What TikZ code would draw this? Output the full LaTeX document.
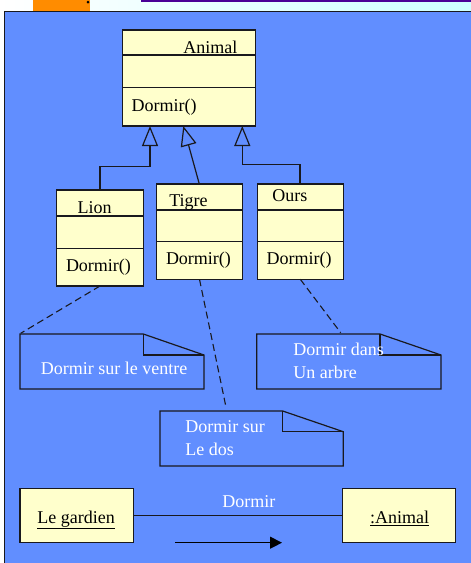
\documentclass[tikz,border=0pt]{standalone}
\usepackage{fontspec}
\setmainfont{Liberation Serif}
\usetikzlibrary{arrows.meta,calc}

\definecolor{panelblue}{RGB}{97,142,255}
\definecolor{classfill}{RGB}{255,255,204}
\definecolor{edgedark}{RGB}{25,25,30}
\definecolor{headcyan}{RGB}{205,255,255}
\definecolor{tabOrange}{RGB}{255,140,0}
\definecolor{rulePurple}{RGB}{75,0,150}

\tikzset{
  every node/.style={font=\fontsize{18}{21}\selectfont, inner sep=0pt, outer sep=0pt},
  classbox/.style={draw=edgedark, fill=classfill, line width=1.2pt, rectangle, anchor=north west},
  objbox/.style={draw=edgedark, fill=classfill, line width=1.2pt, rectangle, anchor=north west},
  notearea/.style={rectangle, anchor=north west},
  noteline/.style={draw=edgedark, line width=1.2pt, line join=miter},
  divider/.style={draw=edgedark, line width=1.2pt},
  generalize/.style={draw=edgedark, line width=1.2pt, -{Triangle[open, length=20pt, width=16pt]}},
  anchorline/.style={draw=edgedark, line width=1.1pt, dash pattern=on 7pt off 4pt},
  msgline/.style={draw=edgedark, line width=1.2pt},
  msgarrow/.style={draw=black, line width=1.2pt, -{Triangle[length=12pt, width=12pt]}},
  label/.style={anchor=base west, text=black},
  notetext/.style={anchor=base west, text=white},
}

\begin{document}
\begin{tikzpicture}[x=1pt, y=-1pt]
  \useasboundingbox (0,0) rectangle (471,563);

  % header strip
  \shade[left color=white, right color=headcyan] (0,0) rectangle (471,12);
  \fill[tabOrange] (33,0) rectangle (90,11);
  \fill[black] (88,2) circle[radius=1.5];
  \fill[rulePurple] (141,0) rectangle (471,1.5);

  % blue slide panel
  \fill[panelblue] (4.5,11.5) rectangle (475,567);
  \draw[edgedark, line width=1.2pt] (4.5,567) -- (4.5,11.5) -- (475,11.5);

  % classes
  \node[classbox, minimum width=133pt, minimum height=96pt] (animal) at (122.7,30) {};
  \node[classbox, minimum width=86.6pt, minimum height=96pt] (lion) at (56.7,190) {};
  \node[classbox, minimum width=85.6pt, minimum height=95.3pt] (tigre) at (156.7,184) {};
  \node[classbox, minimum width=86pt, minimum height=95.3pt] (ours) at (257.3,184) {};

  \draw[divider] ($(animal.north west)+(0,25)$) -- ($(animal.north east)+(0,25)$);
  \draw[divider] ($(animal.north west)+(0,57.7)$) -- ($(animal.north east)+(0,57.7)$);
  \draw[divider] ($(lion.north west)+(0,26)$) -- ($(lion.north east)+(0,26)$);
  \draw[divider] ($(lion.north west)+(0,58.3)$) -- ($(lion.north east)+(0,58.3)$);
  \draw[divider] ($(tigre.north west)+(0,26)$) -- ($(tigre.north east)+(0,26)$);
  \draw[divider] ($(tigre.north west)+(0,57.7)$) -- ($(tigre.north east)+(0,57.7)$);
  \draw[divider] ($(ours.north west)+(0,26)$) -- ($(ours.north east)+(0,26)$);
  \draw[divider] ($(ours.north west)+(0,57.7)$) -- ($(ours.north east)+(0,57.7)$);

  \node[label] (animalname) at (183.3,53) {Animal};
  \node[label] (animalop) at (131.7,111) {Dormir()};
  \node[label] (lionname) at (77.7,213) {Lion};
  \node[label] (lionop) at (66,271) {Dormir()};
  \node[label] (tigrename) at (169.3,206.5) {Tigre};
  \node[label] (tigreop) at (166,264.5) {Dormir()};
  \node[label] (oursname) at (272.3,201) {Ours};
  \node[label] (oursop) at (266.7,264.5) {Dormir()};

  % generalization arrows
  \coordinate (tipA) at ($(animal.south west)+(27.3,0)$);
  \coordinate (tipB) at ($(animal.south west)+(60.6,0)$);
  \coordinate (tipC) at ($(animal.south west)+(119.6,0)$);
  \draw[generalize] (lion.north) -- (lion.north |- 0,166.7) -- (tipA |- 0,166.7) -- (tipA);
  \draw[generalize] ($(tigre.north west)+(42.6,0)$) -- (tipB);
  \draw[generalize] ($(ours.north west)+(42.7,0)$) -- ($(ours.north west)+(42.7,-19.7)$)
        -- (tipC |- 0,164.3) -- (tipC);

  % notes
  \node[notearea, minimum width=184pt, minimum height=55pt] (note1) at (20,334) {};
  \node[notearea, minimum width=184.3pt, minimum height=55pt] (note3) at (256.7,334) {};
  \node[notearea, minimum width=183.3pt, minimum height=55pt] (note2) at (160,411) {};

  \draw[noteline] (note1.south west) -- (note1.north west) -- ($(note1.north east)+(-60.7,0)$)
        -- ($(note1.north east)+(0,21)$) -- (note1.south east) -- cycle;
  \draw[noteline] ($(note1.north east)+(-60.7,0)$) -- ($(note1.north east)+(-60.7,21)$)
        -- ($(note1.north east)+(0,21)$);
  \draw[noteline] (note3.south west) -- (note3.north west) -- ($(note3.north east)+(-61,0)$)
        -- ($(note3.north east)+(0,21)$) -- (note3.south east) -- cycle;
  \draw[noteline] ($(note3.north east)+(-61,0)$) -- ($(note3.north east)+(-61,21)$)
        -- ($(note3.north east)+(0,21)$);
  \draw[noteline] (note2.south west) -- (note2.north west) -- ($(note2.north east)+(-60.6,0)$)
        -- ($(note2.north east)+(0,20.7)$) -- (note2.south east) -- cycle;
  \draw[noteline] ($(note2.north east)+(-60.6,0)$) -- ($(note2.north east)+(-60.6,20.7)$)
        -- ($(note2.north east)+(0,20.7)$);

  \node[notetext] (note1text) at (41,374.3) {Dormir sur le ventre};
  \node[notetext] (note3texta) at (293.3,355) {Dormir dans};
  \node[notetext] (note3textb) at (293.3,378.3) {Un arbre};
  \node[notetext] (note2texta) at (185.3,432) {Dormir sur};
  \node[notetext] (note2textb) at (185.3,455) {Le dos};

  % note anchors
  \draw[anchorline] (lion.south) -- ($(note1.north west)+(0.7,-0.7)$);
  \draw[anchorline] (tigre.south) -- ($(note2.north west)+(65.7,-5.3)$);
  \draw[anchorline] (ours.south) -- ($(note3.north west)+(84,-1.3)$);

  % collaboration
  \node[objbox, minimum width=113.3pt, minimum height=54.4pt] (gardien) at (20,488.3) {};
  \node[objbox, minimum width=113pt, minimum height=54.4pt] (animalobj) at (342.7,488.3) {};
  \node[label] (gardienname) at (37.3,523.3) {\underline{Le gardien}};
  \node[label] (animalobjname) at (370,523.3) {\underline{:Animal}};
  \draw[msgline] (gardien.east) -- (animalobj.west);
  \node[notetext] (msgname) at (222.3,507.5) {Dormir};
  \coordinate (msgfrom) at (175,542.7);
  \coordinate (msgto) at (282,542.7);
  \draw[msgarrow] (msgfrom) -- (msgto);
\end{tikzpicture}
\end{document}
